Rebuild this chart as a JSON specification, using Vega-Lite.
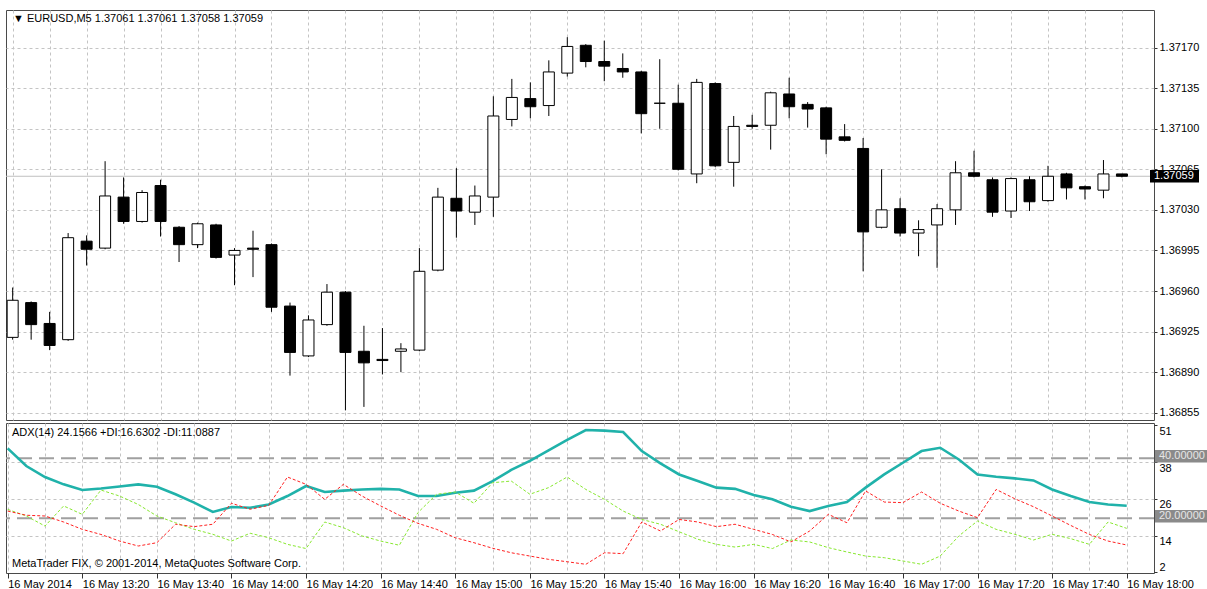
{
  "$schema": "https://vega.github.io/schema/vega-lite/v6.json",
  "background": "white",
  "padding": {"left": 4, "top": 9, "right": 0, "bottom": 0},
  "spacing": 1,
  "config": {
    "font": "Liberation Sans",
    "view": {"stroke": "#4a4a4a", "strokeWidth": 1},
    "axis": {
      "labelFont": "Liberation Sans",
      "labelFontSize": 11,
      "labelColor": "#000000",
      "gridColor": "#c4c4c4",
      "gridDash": [3, 3],
      "gridWidth": 1,
      "tickColor": "#333333",
      "domain": false,
      "labelOverlap": false
    }
  },
  "datasets": {
    "bars": [
      {"t": "2014-05-16T13:00:00Z", "open": 1.36920, "high": 1.36963, "low": 1.36918, "close": 1.36952, "adx": 43.3, "pdi": 22.95, "mdi": 22.4},
      {"t": "2014-05-16T13:05:00Z", "open": 1.36950, "high": 1.36951, "low": 1.36918, "close": 1.36931, "adx": 37.4, "pdi": 20.75, "mdi": 21.0},
      {"t": "2014-05-16T13:10:00Z", "open": 1.36932, "high": 1.36942, "low": 1.36909, "close": 1.36913, "adx": 33.75, "pdi": 17.4, "mdi": 20.75},
      {"t": "2014-05-16T13:15:00Z", "open": 1.36918, "high": 1.37010, "low": 1.36917, "close": 1.37006, "adx": 31.3, "pdi": 24.1, "mdi": 18.75},
      {"t": "2014-05-16T13:20:00Z", "open": 1.37003, "high": 1.37008, "low": 1.36982, "close": 1.36996, "adx": 29.4, "pdi": 21.3, "mdi": 16.3},
      {"t": "2014-05-16T13:25:00Z", "open": 1.36997, "high": 1.37072, "low": 1.36996, "close": 1.37042, "adx": 29.9, "pdi": 29.4, "mdi": 14.6},
      {"t": "2014-05-16T13:30:00Z", "open": 1.37041, "high": 1.37058, "low": 1.37018, "close": 1.37020, "adx": 30.6, "pdi": 27.4, "mdi": 12.4},
      {"t": "2014-05-16T13:35:00Z", "open": 1.37020, "high": 1.37047, "low": 1.37019, "close": 1.37045, "adx": 31.3, "pdi": 24.6, "mdi": 10.75},
      {"t": "2014-05-16T13:40:00Z", "open": 1.37051, "high": 1.37056, "low": 1.37007, "close": 1.37020, "adx": 30.5, "pdi": 20.75, "mdi": 11.85},
      {"t": "2014-05-16T13:45:00Z", "open": 1.37015, "high": 1.37016, "low": 1.36985, "close": 1.37000, "adx": 28.0, "pdi": 18.5, "mdi": 18.0},
      {"t": "2014-05-16T13:50:00Z", "open": 1.37000, "high": 1.37019, "low": 1.36997, "close": 1.37018, "adx": 25.2, "pdi": 16.3, "mdi": 17.2},
      {"t": "2014-05-16T13:55:00Z", "open": 1.37017, "high": 1.37018, "low": 1.36988, "close": 1.36989, "adx": 22.1, "pdi": 14.65, "mdi": 18.0},
      {"t": "2014-05-16T14:00:00Z", "open": 1.36991, "high": 1.36997, "low": 1.36965, "close": 1.36995, "adx": 23.75, "pdi": 12.4, "mdi": 25.0},
      {"t": "2014-05-16T14:05:00Z", "open": 1.36997, "high": 1.37012, "low": 1.36972, "close": 1.36996, "adx": 23.5, "pdi": 15.0, "mdi": 23.0},
      {"t": "2014-05-16T14:10:00Z", "open": 1.37000, "high": 1.37001, "low": 1.36942, "close": 1.36946, "adx": 24.6, "pdi": 13.5, "mdi": 24.3},
      {"t": "2014-05-16T14:15:00Z", "open": 1.36947, "high": 1.36950, "low": 1.36887, "close": 1.36907, "adx": 27.4, "pdi": 11.3, "mdi": 33.75},
      {"t": "2014-05-16T14:20:00Z", "open": 1.36904, "high": 1.36939, "low": 1.36903, "close": 1.36935, "adx": 30.75, "pdi": 9.9, "mdi": 31.3},
      {"t": "2014-05-16T14:25:00Z", "open": 1.36931, "high": 1.36966, "low": 1.36930, "close": 1.36959, "adx": 28.75, "pdi": 18.75, "mdi": 26.3},
      {"t": "2014-05-16T14:30:00Z", "open": 1.36959, "high": 1.36960, "low": 1.36857, "close": 1.36907, "adx": 29.2, "pdi": 16.85, "mdi": 31.3},
      {"t": "2014-05-16T14:35:00Z", "open": 1.36908, "high": 1.36930, "low": 1.36860, "close": 1.36898, "adx": 29.6, "pdi": 14.1, "mdi": 27.4},
      {"t": "2014-05-16T14:40:00Z", "open": 1.36901, "high": 1.36928, "low": 1.36888, "close": 1.36900, "adx": 29.8, "pdi": 12.4, "mdi": 24.1},
      {"t": "2014-05-16T14:45:00Z", "open": 1.36908, "high": 1.36915, "low": 1.36890, "close": 1.36910, "adx": 29.6, "pdi": 11.0, "mdi": 21.0},
      {"t": "2014-05-16T14:50:00Z", "open": 1.36909, "high": 1.36997, "low": 1.36908, "close": 1.36977, "adx": 27.4, "pdi": 21.9, "mdi": 18.3},
      {"t": "2014-05-16T14:55:00Z", "open": 1.36978, "high": 1.37049, "low": 1.36977, "close": 1.37041, "adx": 27.4, "pdi": 28.0, "mdi": 16.3},
      {"t": "2014-05-16T15:00:00Z", "open": 1.37040, "high": 1.37066, "low": 1.37006, "close": 1.37029, "adx": 28.5, "pdi": 28.75, "mdi": 13.5},
      {"t": "2014-05-16T15:05:00Z", "open": 1.37028, "high": 1.37051, "low": 1.37017, "close": 1.37042, "adx": 29.2, "pdi": 25.0, "mdi": 11.85},
      {"t": "2014-05-16T15:10:00Z", "open": 1.37041, "high": 1.37128, "low": 1.37024, "close": 1.37111, "adx": 32.4, "pdi": 31.85, "mdi": 10.0},
      {"t": "2014-05-16T15:15:00Z", "open": 1.37108, "high": 1.37143, "low": 1.37102, "close": 1.37127, "adx": 36.1, "pdi": 32.4, "mdi": 8.5},
      {"t": "2014-05-16T15:20:00Z", "open": 1.37126, "high": 1.37140, "low": 1.37109, "close": 1.37119, "adx": 39.1, "pdi": 28.0, "mdi": 7.4},
      {"t": "2014-05-16T15:25:00Z", "open": 1.37120, "high": 1.37159, "low": 1.37111, "close": 1.37149, "adx": 42.6, "pdi": 30.2, "mdi": 6.3},
      {"t": "2014-05-16T15:30:00Z", "open": 1.37148, "high": 1.37179, "low": 1.37145, "close": 1.37171, "adx": 46.1, "pdi": 33.75, "mdi": 5.5},
      {"t": "2014-05-16T15:35:00Z", "open": 1.37172, "high": 1.37173, "low": 1.37153, "close": 1.37158, "adx": 49.4, "pdi": 29.6, "mdi": 4.65},
      {"t": "2014-05-16T15:40:00Z", "open": 1.37158, "high": 1.37176, "low": 1.37141, "close": 1.37154, "adx": 49.2, "pdi": 26.3, "mdi": 8.5},
      {"t": "2014-05-16T15:45:00Z", "open": 1.37152, "high": 1.37165, "low": 1.37144, "close": 1.37149, "adx": 48.75, "pdi": 22.4, "mdi": 8.2},
      {"t": "2014-05-16T15:50:00Z", "open": 1.37149, "high": 1.37150, "low": 1.37096, "close": 1.37113, "adx": 42.4, "pdi": 19.6, "mdi": 18.75},
      {"t": "2014-05-16T15:55:00Z", "open": 1.37122, "high": 1.37160, "low": 1.37100, "close": 1.37122, "adx": 38.3, "pdi": 18.0, "mdi": 15.75},
      {"t": "2014-05-16T16:00:00Z", "open": 1.37122, "high": 1.37138, "low": 1.37064, "close": 1.37065, "adx": 34.6, "pdi": 15.5, "mdi": 19.6},
      {"t": "2014-05-16T16:05:00Z", "open": 1.37061, "high": 1.37143, "low": 1.37053, "close": 1.37140, "adx": 32.4, "pdi": 13.0, "mdi": 18.75},
      {"t": "2014-05-16T16:10:00Z", "open": 1.37139, "high": 1.37140, "low": 1.37067, "close": 1.37068, "adx": 30.2, "pdi": 11.3, "mdi": 17.2},
      {"t": "2014-05-16T16:15:00Z", "open": 1.37071, "high": 1.37111, "low": 1.37050, "close": 1.37102, "adx": 29.8, "pdi": 10.4, "mdi": 18.0},
      {"t": "2014-05-16T16:20:00Z", "open": 1.37103, "high": 1.37112, "low": 1.37100, "close": 1.37102, "adx": 27.75, "pdi": 11.3, "mdi": 16.3},
      {"t": "2014-05-16T16:25:00Z", "open": 1.37103, "high": 1.37132, "low": 1.37082, "close": 1.37131, "adx": 26.3, "pdi": 9.9, "mdi": 14.6},
      {"t": "2014-05-16T16:30:00Z", "open": 1.37130, "high": 1.37144, "low": 1.37109, "close": 1.37119, "adx": 23.85, "pdi": 12.75, "mdi": 12.1},
      {"t": "2014-05-16T16:35:00Z", "open": 1.37121, "high": 1.37123, "low": 1.37101, "close": 1.37117, "adx": 22.4, "pdi": 12.1, "mdi": 15.75},
      {"t": "2014-05-16T16:40:00Z", "open": 1.37118, "high": 1.37119, "low": 1.37078, "close": 1.37091, "adx": 24.1, "pdi": 10.2, "mdi": 21.3},
      {"t": "2014-05-16T16:45:00Z", "open": 1.37093, "high": 1.37104, "low": 1.37089, "close": 1.37090, "adx": 25.4, "pdi": 8.75, "mdi": 18.5},
      {"t": "2014-05-16T16:50:00Z", "open": 1.37083, "high": 1.37092, "low": 1.36977, "close": 1.37011, "adx": 30.2, "pdi": 7.4, "mdi": 29.1},
      {"t": "2014-05-16T16:55:00Z", "open": 1.37015, "high": 1.37065, "low": 1.37014, "close": 1.37030, "adx": 34.6, "pdi": 6.85, "mdi": 25.4},
      {"t": "2014-05-16T17:00:00Z", "open": 1.37031, "high": 1.37040, "low": 1.37007, "close": 1.37010, "adx": 38.5, "pdi": 5.75, "mdi": 25.2},
      {"t": "2014-05-16T17:05:00Z", "open": 1.37010, "high": 1.37021, "low": 1.36990, "close": 1.37013, "adx": 42.4, "pdi": 4.65, "mdi": 28.75},
      {"t": "2014-05-16T17:10:00Z", "open": 1.37017, "high": 1.37035, "low": 1.36980, "close": 1.37031, "adx": 43.5, "pdi": 7.4, "mdi": 25.0},
      {"t": "2014-05-16T17:15:00Z", "open": 1.37030, "high": 1.37072, "low": 1.37017, "close": 1.37062, "adx": 39.6, "pdi": 14.1, "mdi": 22.4},
      {"t": "2014-05-16T17:20:00Z", "open": 1.37062, "high": 1.37081, "low": 1.37058, "close": 1.37059, "adx": 34.6, "pdi": 19.1, "mdi": 20.2},
      {"t": "2014-05-16T17:25:00Z", "open": 1.37056, "high": 1.37058, "low": 1.37024, "close": 1.37028, "adx": 33.85, "pdi": 16.3, "mdi": 29.6},
      {"t": "2014-05-16T17:30:00Z", "open": 1.37029, "high": 1.37058, "low": 1.37023, "close": 1.37057, "adx": 33.3, "pdi": 14.65, "mdi": 26.5},
      {"t": "2014-05-16T17:35:00Z", "open": 1.37056, "high": 1.37059, "low": 1.37029, "close": 1.37037, "adx": 32.6, "pdi": 12.75, "mdi": 23.85},
      {"t": "2014-05-16T17:40:00Z", "open": 1.37038, "high": 1.37068, "low": 1.37037, "close": 1.37059, "adx": 29.6, "pdi": 14.65, "mdi": 20.75},
      {"t": "2014-05-16T17:45:00Z", "open": 1.37061, "high": 1.37062, "low": 1.37039, "close": 1.37049, "adx": 27.4, "pdi": 13.2, "mdi": 17.6},
      {"t": "2014-05-16T17:50:00Z", "open": 1.37050, "high": 1.37051, "low": 1.37039, "close": 1.37048, "adx": 25.4, "pdi": 11.3, "mdi": 14.6},
      {"t": "2014-05-16T17:55:00Z", "open": 1.37047, "high": 1.37073, "low": 1.37040, "close": 1.37061, "adx": 24.6, "pdi": 18.75, "mdi": 12.4},
      {"t": "2014-05-16T18:00:00Z", "open": 1.37061, "high": 1.37061, "low": 1.37058, "close": 1.37059, "adx": 24.1566, "pdi": 16.6302, "mdi": 11.0887}
    ]
  },
  "vconcat": [
    {
      "width": 1148,
      "height": 410,
      "layer": [
        {
          "data": {"values": [{"price": 1.37059}]},
          "mark": {"type": "rule", "color": "#c0c0c0", "strokeWidth": 1},
          "encoding": {
            "y": {
              "field": "price", "type": "quantitative", "title": null,
              "scale": {"domain": [1.368487, 1.3720245], "nice": false, "zero": false},
              "axis": {
                "orient": "right",
                "values": [1.36855, 1.36890, 1.36925, 1.36960, 1.36995, 1.37030, 1.37065, 1.37100, 1.37135, 1.37170],
                "tickCount": 20,
                "format": ".5f",
                "grid": true,
                "labelOverlap": false,
                "tickSize": 3,
                "labelPadding": 2
              }
            }
          }
        },
        {
          "data": {"name": "bars"},
          "mark": {"type": "rule", "color": "#000000", "strokeWidth": 1, "clip": true},
          "encoding": {
            "x": {
              "field": "t", "type": "temporal", "title": null,
              "scale": {"type": "utc", "domain": [1400245173000, 1400263639000]},
              "axis": {
                "labels": false, "ticks": false, "grid": true, "minExtent": 0, "maxExtent": 0,
                "tickCount": 60,
                "values": [1400245200000, 1400245800000, 1400246400000, 1400247000000, 1400247600000, 1400248200000, 1400248800000, 1400249400000, 1400250000000, 1400250600000, 1400251200000, 1400251800000, 1400252400000, 1400253000000, 1400253600000, 1400254200000, 1400254800000, 1400255400000, 1400256000000, 1400256600000, 1400257200000, 1400257800000, 1400258400000, 1400259000000, 1400259600000, 1400260200000, 1400260800000, 1400261400000, 1400262000000, 1400262600000, 1400263200000]
              }
            },
            "y": {"field": "low", "type": "quantitative"},
            "y2": {"field": "high"}
          }
        },
        {
          "data": {"name": "bars"},
          "mark": {"type": "bar", "width": 11, "stroke": "#000000", "strokeWidth": 1, "clip": true},
          "encoding": {
            "x": {"field": "t", "type": "temporal"},
            "y": {"field": "open", "type": "quantitative"},
            "y2": {"field": "close"},
            "fill": {"condition": {"test": "datum.close > datum.open", "value": "#ffffff"}, "value": "#000000"}
          }
        },
        {
          "data": {"values": [{"price": 1.37059, "label": "1.37059"}]},
          "mark": {"type": "point", "shape": "M-1,-0.255L1,-0.255L1,0.255L-1,0.255Z", "size": 2401, "filled": true, "opacity": 1, "strokeWidth": 0, "xOffset": 25.5, "color": "#000000"},
          "encoding": {
            "x": {"datum": 1400263639000, "type": "temporal"},
            "y": {"field": "price", "type": "quantitative"}
          }
        },
        {
          "data": {"values": [{"price": 1.37059, "label": "1.37059"}]},
          "mark": {"type": "text", "align": "left", "baseline": "middle", "dx": 5, "color": "#ffffff", "fontSize": 11, "font": "Liberation Sans"},
          "encoding": {
            "x": {"datum": 1400263639000, "type": "temporal"},
            "y": {"field": "price", "type": "quantitative"},
            "text": {"field": "label"}
          }
        },
        {
          "data": {"values": [{"h": "▼ EURUSD,M5  1.37061 1.37061 1.37058 1.37059"}]},
          "mark": {"type": "text", "align": "left", "baseline": "middle", "dx": 2, "dy": 9, "color": "#000000", "fontSize": 11, "font": "Liberation Sans"},
          "encoding": {
            "x": {"datum": 1400245173000, "type": "temporal"},
            "y": {"datum": 1.3720245, "type": "quantitative"},
            "text": {"field": "h"}
          }
        }
      ]
    },
    {
      "width": 1148,
      "height": 150,
      "layer": [
        {
          "data": {"values": [{"lv": 40}, {"lv": 20}]},
          "mark": {"type": "rule", "color": "#a0a0a0", "strokeWidth": 2, "strokeDash": [15, 7]},
          "encoding": {
            "y": {
              "field": "lv", "type": "quantitative", "title": null,
              "scale": {"domain": [1.75, 51.75], "nice": false, "zero": false},
              "axis": {
                "orient": "right",
                "values": [2, 14.25, 26.5, 38.75, 51],
                "tickCount": 20,
                "labelExpr": "format(floor(datum.value), 'd')",
                "grid": true,
                "labelOverlap": false,
                "gridOpacity": {"condition": {"test": "datum.value < 3 || datum.value > 50", "value": 0}, "value": 1},
                "labelBaseline": {"condition": {"test": "datum.value < 3", "value": "bottom"}, "value": "top"},
                "tickSize": 3,
                "labelPadding": 2
              }
            }
          }
        },
        {
          "data": {"name": "bars"},
          "mark": {"type": "line", "color": "#20b2aa", "strokeWidth": 2.6, "clip": true},
          "encoding": {
            "x": {
              "field": "t", "type": "temporal", "title": null,
              "scale": {"type": "utc", "domain": [1400245173000, 1400263639000]},
              "axis": {
                "grid": true,
                "tickCount": 60,
                "values": [1400245200000, 1400245800000, 1400246400000, 1400247000000, 1400247600000, 1400248200000, 1400248800000, 1400249400000, 1400250000000, 1400250600000, 1400251200000, 1400251800000, 1400252400000, 1400253000000, 1400253600000, 1400254200000, 1400254800000, 1400255400000, 1400256000000, 1400256600000, 1400257200000, 1400257800000, 1400258400000, 1400259000000, 1400259600000, 1400260200000, 1400260800000, 1400261400000, 1400262000000, 1400262600000, 1400263200000],
                "labelExpr": "utcminutes(datum.value) % 20 != 0 ? '' : (utchours(datum.value) == 13 && utcminutes(datum.value) == 0 ? '16 May 2014' : utcFormat(datum.value, '%d %b %H:%M'))",
                "labelAlign": "left",
                "labelFlush": false,
                "labelOverlap": false,
                "labelBound": false,
                "tickSize": 5,
                "labelPadding": 0,
                "tickOpacity": {"condition": {"test": "utcminutes(datum.value) % 20 != 0", "value": 0}, "value": 1}
              }
            },
            "y": {"field": "adx", "type": "quantitative"}
          }
        },
        {
          "data": {"name": "bars"},
          "mark": {"type": "line", "color": "#88e830", "strokeWidth": 1, "strokeDash": [3, 2], "clip": true},
          "encoding": {
            "x": {"field": "t", "type": "temporal"},
            "y": {"field": "pdi", "type": "quantitative"}
          }
        },
        {
          "data": {"name": "bars"},
          "mark": {"type": "line", "color": "#ff2020", "strokeWidth": 1, "strokeDash": [3, 2], "clip": true},
          "encoding": {
            "x": {"field": "t", "type": "temporal"},
            "y": {"field": "mdi", "type": "quantitative"}
          }
        },
        {
          "data": {"values": [{"lv": 40, "txt": "40.00000"}, {"lv": 20, "txt": "20.00000"}]},
          "mark": {"type": "point", "shape": "M-1,-0.21L1,-0.21L1,0.21L-1,0.21Z", "size": 3600, "filled": true, "opacity": 1, "strokeWidth": 0, "xOffset": 31, "yOffset": -2, "color": "#8a8a8a"},
          "encoding": {
            "x": {"datum": 1400263639000, "type": "temporal"},
            "y": {"field": "lv", "type": "quantitative"}
          }
        },
        {
          "data": {"values": [{"lv": 40, "txt": "40.00000"}, {"lv": 20, "txt": "20.00000"}]},
          "mark": {"type": "text", "align": "left", "baseline": "middle", "dx": 5, "dy": -2, "color": "#e6e6e6", "fontSize": 11, "font": "Liberation Sans"},
          "encoding": {
            "x": {"datum": 1400263639000, "type": "temporal"},
            "y": {"field": "lv", "type": "quantitative"},
            "text": {"field": "txt"}
          }
        },
        {
          "data": {"values": [{"s": "ADX(14) 24.1566 +DI:16.6302 -DI:11.0887"}]},
          "mark": {"type": "text", "align": "left", "baseline": "middle", "dx": 6, "dy": 10, "color": "#000000", "fontSize": 11, "font": "Liberation Sans"},
          "encoding": {
            "x": {"datum": 1400245173000, "type": "temporal"},
            "y": {"datum": 51.75, "type": "quantitative"},
            "text": {"field": "s"}
          }
        },
        {
          "data": {"values": [{"s": "MetaTrader FIX, © 2001-2014, MetaQuotes Software Corp."}]},
          "mark": {"type": "text", "align": "left", "baseline": "middle", "dx": 6, "dy": -9, "color": "#000000", "fontSize": 11, "font": "Liberation Sans"},
          "encoding": {
            "x": {"datum": 1400245173000, "type": "temporal"},
            "y": {"datum": 1.75, "type": "quantitative"},
            "text": {"field": "s"}
          }
        }
      ]
    }
  ]
}
